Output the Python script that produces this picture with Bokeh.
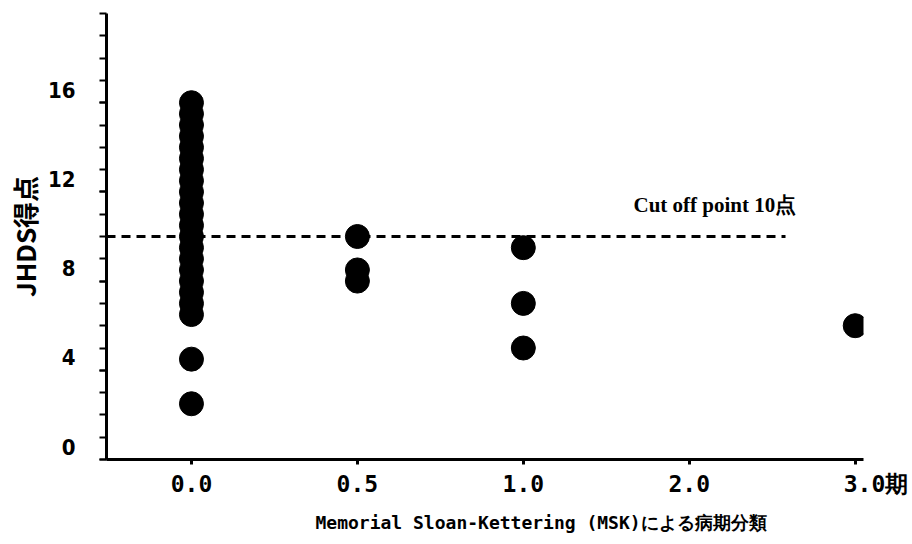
from bokeh.plotting import figure
from bokeh.models import FixedTicker, Range1d, LinearAxis, Title
from bokeh.core.properties import value
from bokeh.embed import file_html
from bokeh.resources import INLINE

# ---- data ----
stage_labels = ["0.0", "0.5", "1.0", "2.0", "3.0"]
stage_unit = "期"
stage_pos = [0, 1, 2, 3, 4]

scores_00 = [16, 15.5, 15, 14.5, 14, 13.5, 13, 12.5, 12, 11.5, 11, 10.5, 10,
             9.5, 9, 8.5, 8, 7.5, 7, 6.5, 4.5, 2.5]
scores_05 = [10, 8.5, 8]
scores_10 = [9.5, 7, 5]
scores_20 = []
scores_30 = [6]
score_groups = [scores_00, scores_05, scores_10, scores_20, scores_30]

cutoff = 10
cutoff_label = "Cut off point  10点"
y_major = [0, 4, 8, 12, 16]
y_minor = list(range(0, 21))
x_title = "Memorial Sloan-Kettering (MSK)による病期分類"
y_title = "JHDS得点"

xs, ys = [], []
for pos, grp in zip(stage_pos, score_groups):
    for s in grp:
        xs.append(pos)
        ys.append(s)

# ---- figure ----
W, H = 910, 542
p = figure(width=W, height=H, output_backend="svg", toolbar_location=None,
           x_range=Range1d(-0.512, 4.05), y_range=Range1d(0, 20),
           min_border_left=106, min_border_right=W - 863, min_border_top=13,
           min_border_bottom=H - 459)
p.outline_line_color = None
p.xgrid.visible = False
p.ygrid.visible = False
p.background_fill_color = "white"

# cutoff dashed line
p.line(x=[-0.512, 3.58], y=[cutoff, cutoff], line_color="black", line_width=3,
       line_dash="9 6")
p.text(x=[3.17], y=[11.43], text=[cutoff_label], text_align="center",
       text_baseline="middle", text_font=value("Liberation Serif"),
       text_font_size="21px", text_font_style="bold", text_color="black")

# points
p.scatter(x=xs, y=ys, size=24, fill_color="black", line_color="black")

# ---- x axis ----
xa = p.xaxis[0]
xa.ticker = FixedTicker(ticks=stage_pos)
overrides = {pos: lab for pos, lab in zip(stage_pos, stage_labels)}
overrides[stage_pos[-1]] = "\u00a0\u00a0\u00a0" + stage_labels[-1] + stage_unit
xa.major_label_overrides = overrides
xa.major_tick_out = 5
xa.major_tick_in = 0
xa.minor_tick_out = 0
xa.axis_line_width = 3
xa.major_tick_line_width = 3
xa.major_label_standoff = 6
xa.major_label_text_font = "DejaVu Sans Mono"
xa.major_label_text_font_style = "bold"
xa.major_label_text_font_size = "23px"
xa.major_label_text_color = "black"

xt = Title(text=x_title, align="left", offset=209, standoff=20,
           text_font="DejaVu Sans Mono", text_font_style="bold",
           text_font_size="18px", text_color="black")
p.add_layout(xt, "below")

# ---- y axis: line + ticks ----
ya = p.yaxis[0]
ya.ticker = FixedTicker(ticks=y_major, minor_ticks=y_minor)
ya.major_tick_out = 7
ya.major_tick_in = 0
ya.minor_tick_out = 7
ya.minor_tick_in = 0
ya.axis_line_width = 3
ya.major_tick_line_width = 2
ya.minor_tick_line_width = 2
ya.major_label_overrides = {t: "" for t in y_major}
ya.major_label_standoff = 0

# ---- y tick labels (printed slightly above their ticks, as in the original) ----
p.extra_y_ranges = {"ylab": Range1d(-0.58, 19.42)}
ylab = LinearAxis(y_range_name="ylab", ticker=FixedTicker(ticks=y_major, minor_ticks=[]))
ylab.axis_line_color = None
ylab.major_tick_line_color = None
ylab.minor_tick_line_color = None
ylab.major_tick_out = 0
ylab.major_tick_in = 0
ylab.minor_tick_out = 0
ylab.minor_tick_in = 0
ylab.major_label_standoff = 24
ylab.major_label_text_font = "DejaVu Sans Condensed"
ylab.major_label_text_font_style = "bold"
ylab.major_label_text_font_size = "22px"
ylab.major_label_text_color = "black"
p.add_layout(ylab, "left")

yt = Title(text=y_title, align="center", offset=13, standoff=3,
           text_font="Noto Sans CJK JP", text_font_style="bold",
           text_font_size="26px", text_color="black")
p.add_layout(yt, "left")

open("out.html", "w").write(file_html(p, INLINE))
